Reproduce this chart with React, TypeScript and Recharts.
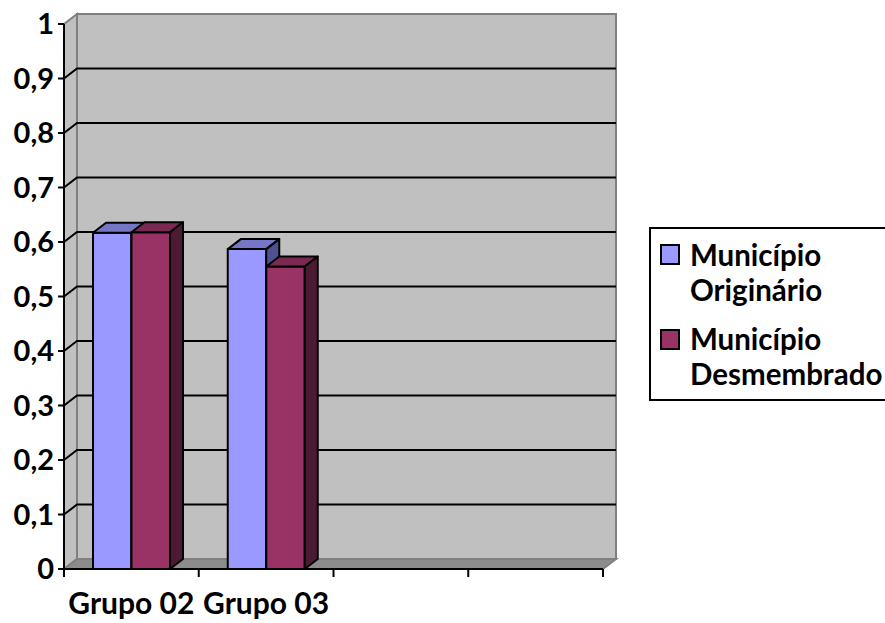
import { Bar, BarChart, CartesianGrid, XAxis, YAxis } from "recharts";

const CATEGORIES = ["Grupo 02", "Grupo 03", "", ""];
const ORIGINARIO = [0.617, 0.587, null, null];
const DESMEMBRADO = [0.618, 0.555, null, null];
const Y_TICKS = [0, 0.1, 0.2, 0.3, 0.4, 0.5, 0.6, 0.7, 0.8, 0.9, 1];
const LEGEND_LINES = [
  ["Município", "Originário"],
  ["Município", "Desmembrado"],
];

const FONT = "Lato, 'Noto Sans', sans-serif";
const DX = 13;
const DY = -10;

const BLUE = { front: "#9999FF", top: "#7676C6", side: "#50508F" };
const WINE = { front: "#993366", top: "#7A2952", side: "#4D1A33" };

const data = CATEGORIES.map((grupo, i) => ({
  grupo,
  orig: ORIGINARIO[i],
  desm: DESMEMBRADO[i],
}));

function Box3D(props: any) {
  const { x, y, width, height, colors, value } = props;
  if (value == null || !height || height <= 0) return <g />;
  const r = x + width;
  const b = y + height;
  return (
    <g stroke="#000" strokeWidth={2} strokeLinejoin="round">
      <rect x={x} y={y} width={width} height={height} fill={colors.front} />
      <polygon points={`${x},${y} ${x + DX},${y + DY} ${r + DX},${y + DY} ${r},${y}`} fill={colors.top} />
      <polygon points={`${r},${y} ${r + DX},${y + DY} ${r + DX},${b + DY} ${r},${b}`} fill={colors.side} />
    </g>
  );
}

// walls + floor, drawn once from the baseline row of the grid
function Walls(props: any) {
  const { x1, x2, y1, key } = props;
  const top = props.y ?? props.offset?.top;
  const h = props.height ?? props.offset?.height;
  const bottom = top + h;
  if (Math.abs(y1 - bottom) > 0.5) return <g key={key} />;
  return (
    <g key={key}>
      <polygon
        points={`${x1},${top} ${x1 + DX},${top + DY} ${x1 + DX},${bottom + DY} ${x1},${bottom}`}
        fill="#C0C0C0"
        stroke="#808080"
        strokeWidth={2}
      />
      <rect x={x1 + DX} y={top + DY} width={x2 - x1} height={h} fill="#C0C0C0" stroke="#808080" strokeWidth={2} />
      <polygon
        points={`${x1},${bottom} ${x1 + DX},${bottom + DY} ${x2 + DX},${bottom + DY} ${x2},${bottom}`}
        fill="#8C8C8C"
        stroke="#808080"
        strokeWidth={2}
      />
    </g>
  );
}

function GridLine3D(props: any) {
  const { x1, x2, y1, key } = props;
  const top = props.y ?? props.offset?.top;
  const h = props.height ?? props.offset?.height;
  if (Math.abs(y1 - top) < 0.5 || Math.abs(y1 - (top + h)) < 0.5) return <g key={key} />;
  return (
    <polyline
      key={key}
      points={`${x1},${y1} ${x1 + DX},${y1 + DY} ${x2 + DX},${y1 + DY}`}
      fill="none"
      stroke="#000"
      strokeWidth={2}
    />
  );
}

function XTick(props: any) {
  const { x, y, payload, index, visibleTicksCount } = props;
  const half = payload.offset ?? 67;
  return (
    <g>
      <line x1={x - half} x2={x - half} y1={y} y2={y + 8} stroke="#000" strokeWidth={2} />
      {index === visibleTicksCount - 1 && (
        <line x1={x + half} x2={x + half} y1={y} y2={y + 8} stroke="#000" strokeWidth={2} />
      )}
      <text x={x} y={y + 45} textAnchor="middle" fontSize={30} fontWeight={700} fill="#000" fontFamily={FONT}>
        {payload.value}
      </text>
    </g>
  );
}

function LegendBox() {
  const colors = [BLUE.front, WINE.front];
  return (
    <svg width={885} height={623} style={{ position: "absolute", left: 0, top: 0, pointerEvents: "none" }}>
      <rect x={650} y={228} width={260} height={172} fill="#fff" stroke="#000" strokeWidth={2} />
      {LEGEND_LINES.map((lines, i) => (
        <g key={i}>
          <rect x={661} y={245 + i * 85} width={18} height={19} fill={colors[i]} stroke="#000" strokeWidth={2} />
          {lines.map((t, j) => (
            <text
              key={j}
              x={690}
              y={266 + i * 84 + j * 35}
              fontSize={29.5}
              fontWeight={700}
              fontFamily={FONT}
              fill="#000"
            >
              {t}
            </text>
          ))}
        </g>
      ))}
    </svg>
  );
}

export default function App() {
  return (
    <div
      style={{
        position: "absolute",
        left: 0,
        top: 0,
        width: 885,
        height: 623,
        overflow: "hidden",
        background: "#fff",
        fontFamily: FONT,
      }}
    >
      <BarChart
        width={885}
        height={623}
        data={data}
        margin={{ top: 24, right: 282, bottom: 0, left: 0 }}
        barGap={0}
      >
        <CartesianGrid vertical={false} horizontal={(p: any) => <Walls {...p} />} />
        <CartesianGrid vertical={false} horizontal={(p: any) => <GridLine3D {...p} />} />
        <XAxis
          dataKey="grupo"
          interval={0}
          height={54}
          tickLine={false}
          tickSize={0}
          tickMargin={0}
          axisLine={{ stroke: "#000", strokeWidth: 2 }}
          tick={<XTick />}
        />
        <YAxis
          width={64}
          domain={[0, 1]}
          ticks={Y_TICKS}
          interval={0}
          tickSize={6}
          tickMargin={4}
          axisLine={{ stroke: "#000", strokeWidth: 2 }}
          tickLine={{ stroke: "#000", strokeWidth: 2 }}
          tick={{ fill: "#000", fontSize: 29, fontWeight: 700, fontFamily: FONT }}
          tickFormatter={(v: number) => String(v).replace(".", ",")}
        />
        <Bar
          dataKey="orig"
          barSize={38.5}
          isAnimationActive={false}
          shape={(p: any) => <Box3D {...p} colors={BLUE} />}
        />
        <Bar
          dataKey="desm"
          barSize={38.5}
          isAnimationActive={false}
          shape={(p: any) => <Box3D {...p} colors={WINE} />}
        />
      </BarChart>
      <LegendBox />
    </div>
  );
}
